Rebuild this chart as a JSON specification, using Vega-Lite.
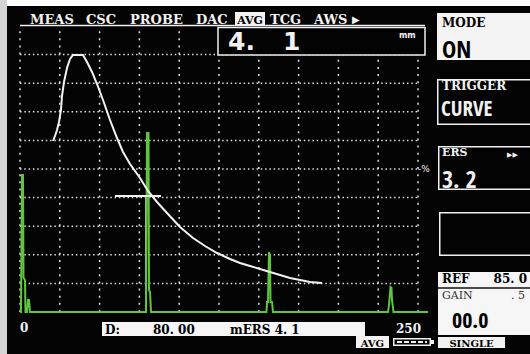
{
"$schema": "https://vega.github.io/schema/vega-lite/v6.json",
"width": 530, "height": 354,
"autosize": {"type": "none"},
"padding": 0,
"background": "#030303",
"config": {"view": {"stroke": null}, "text": {"baseline": "alphabetic"}},
"datasets": {
 "ascan": [
  {"d":0,"a":0},{"d":0.63,"a":0},{"d":1.26,"a":47.9},{"d":1.88,"a":47.9},{"d":2.2,"a":11.9},{"d":3.14,"a":11.2},{"d":3.45,"a":0},{"d":4.4,"a":0},{"d":5.03,"a":4.2},{"d":5.65,"a":4.2},{"d":6.28,"a":0},
  {"d":77.89,"a":0},{"d":79.15,"a":0},{"d":79.77,"a":62.6},{"d":80.72,"a":62.6},{"d":81.03,"a":7.7},{"d":81.66,"a":7.0},{"d":82.29,"a":0},
  {"d":153.89,"a":0},{"d":154.84,"a":0},{"d":155.15,"a":3.5},{"d":155.78,"a":3.5},{"d":156.41,"a":21.0},{"d":157.04,"a":19.9},{"d":157.35,"a":3.5},{"d":158.29,"a":3.5},{"d":158.92,"a":0},
  {"d":231.16,"a":0},{"d":231.78,"a":2.4},{"d":232.73,"a":8.7},{"d":233.36,"a":8.4},{"d":233.67,"a":4.2},{"d":234.61,"a":0},{"d":256.28,"a":0}
 ],
 "curve": [
  {"d":20.73,"a":59.79},{"d":21.98,"a":61.54},{"d":23.24,"a":63.64},{"d":24.5,"a":66.43},{"d":25.75,"a":70.63},{"d":26.38,"a":75.52},{"d":27.64,"a":80.42},{"d":29.52,"a":85.31},{"d":31.41,"a":88.46},{"d":33.29,"a":89.86},{"d":39.57,"a":89.86},{"d":42.09,"a":87.41},{"d":45.23,"a":83.92},{"d":48.37,"a":79.72},{"d":52.14,"a":74.13},{"d":56.53,"a":67.13},{"d":60.93,"a":60.84},{"d":64.7,"a":55.94},{"d":69.1,"a":51.75},{"d":75.38,"a":46.85},{"d":80.4,"a":42.31},{"d":86.06,"a":38.46},{"d":92.34,"a":34.62},{"d":100.5,"a":29.72},{"d":108.67,"a":25.87},{"d":116.21,"a":23.08},{"d":123.74,"a":20.63},{"d":131.91,"a":18.53},{"d":138.19,"a":17.13},{"d":144.47,"a":16.08},{"d":150.75,"a":15.03},{"d":157.04,"a":13.99},{"d":163.32,"a":12.94},{"d":169.6,"a":11.89},{"d":175.88,"a":11.19},{"d":182.16,"a":10.49},{"d":189.71,"a":10.14}
 ],
 "hgrid": [{"a":10},{"a":20},{"a":30},{"a":40},{"a":50},{"a":60},{"a":70},{"a":80},{"a":90}],
 "vgrid": [{"d":0},{"d":25},{"d":50},{"d":75},{"d":100},{"d":125},{"d":150},{"d":175},{"d":200},{"d":225},{"d":250}]
},
"layer": [
 {"data":{"values":[{}]},"mark":{"type":"rect","fill":"#ffffff"},
  "encoding":{"x":{"datum":-12.563,"axis":null,"scale":{"domain":[-12.563,320.352],"nice":false,"zero":false}},"x2":{"datum":320.352},"y":{"datum":106.993,"axis":null,"scale":{"domain":[-14.685,109.091],"nice":false,"zero":false}},"y2":{"datum":109.091}}},
 {"data":{"values":[{}]},"mark":{"type":"rect","fill":"#d4d4d4"},
  "encoding":{"x":{"datum":-12.563,"axis":null},"x2":{"datum":-8.166},"y":{"datum":-14.685,"axis":null},"y2":{"datum":109.091}}},
 {"data":{"name":"hgrid"},"mark":{"type":"rule","stroke":"#e0e0e0","strokeWidth":1.5,"strokeDash":[1.5,2.8]},
  "encoding":{"y":{"field":"a","type":"quantitative","axis":null},"x":{"datum":0,"axis":null},"x2":{"datum":250}}},
 {"data":{"name":"vgrid"},"mark":{"type":"rule","stroke":"#e0e0e0","strokeWidth":1.5,"strokeDash":[2,5.15]},
  "encoding":{"x":{"field":"d","type":"quantitative","axis":null},"y":{"datum":0,"axis":null},"y2":{"datum":100}}},
 {"data":{"values":[{}]},"mark":{"type":"rect","fill":"#030303","stroke":"#f0f0f0","strokeWidth":1.5},
  "encoding":{"x":{"datum":124.372,"axis":null},"x2":{"datum":254.397},"y":{"datum":89.86,"axis":null},"y2":{"datum":99.476}}},
 {"data":{"values":[{}]},"mark":{"type":"rule","stroke":"#f0f0f0","strokeWidth":1.5},
  "encoding":{"x":{"datum":0,"axis":null},"x2":{"datum":254.397},"y":{"datum":100.175,"axis":null}}},
 {"data":{"values":[{}]},"mark":{"type":"rule","stroke":"#b8b8b8","strokeWidth":1},
  "encoding":{"x":{"datum":78.832,"axis":null},"y":{"datum":0,"axis":null},"y2":{"datum":40.5}}},
 {"data":{"name":"ascan"},"mark":{"type":"line","stroke":"#5fc43e","strokeWidth":2},
  "encoding":{"x":{"field":"d","type":"quantitative","axis":{"values":[0,5,10,15,20,25,30,35,40,45,50,55,60,65,70,75,80,85,90,95,100,105,110,115,120,125,130,135,140,145,150,155,160,165,170,175,180,185,190,195,200,205,210,215,220,225,230,235,240,245,250],"offset":-42,"domain":false,"grid":false,"labels":false,"title":null,"ticks":true,"tickColor":"#e6e6e6","tickWidth":1.3,"tickSize":{"condition":{"test":"datum.value % 25 === 0","value":6},"value":3.5}}},
   "y":{"field":"a","type":"quantitative","axis":null}}},
 {"data":{"name":"curve"},"mark":{"type":"line","stroke":"#f2f2f2","strokeWidth":2},
  "encoding":{"x":{"field":"d","type":"quantitative","axis":null},"y":{"field":"a","type":"quantitative","axis":null}}},
 {"data":{"values":[{}]},"mark":{"type":"rule","stroke":"#f2f2f2","strokeWidth":2.2},
  "encoding":{"x":{"datum":59.67,"axis":null},"x2":{"datum":88.57},"y":{"datum":40.559,"axis":null}}},

 {"data":{"values":[{"t":"MEAS"}]},"mark":{"type":"text","align":"left","font":"DejaVu Serif","fontWeight":"bold","fontSize":13,"fill":"#f2f2f2"},
  "encoding":{"x":{"datum":6.281,"axis":null},"y":{"datum":100.699,"axis":null},"text":{"field":"t"}}},
 {"data":{"values":[{"t":"CSC"}]},"mark":{"type":"text","align":"left","font":"DejaVu Serif","fontWeight":"bold","fontSize":13,"fill":"#f2f2f2"},
  "encoding":{"x":{"datum":41.457,"axis":null},"y":{"datum":100.699,"axis":null},"text":{"field":"t"}}},
 {"data":{"values":[{"t":"PROBE"}]},"mark":{"type":"text","align":"left","font":"DejaVu Serif","fontWeight":"bold","fontSize":13,"fill":"#f2f2f2"},
  "encoding":{"x":{"datum":69.096,"axis":null},"y":{"datum":100.699,"axis":null},"text":{"field":"t"}}},
 {"data":{"values":[{"t":"DAC"}]},"mark":{"type":"text","align":"left","font":"DejaVu Serif","fontWeight":"bold","fontSize":13,"fill":"#f2f2f2"},
  "encoding":{"x":{"datum":110.553,"axis":null},"y":{"datum":100.699,"axis":null},"text":{"field":"t"}}},
 {"data":{"values":[{}]},"mark":{"type":"rect","fill":"#f2f2f2"},
  "encoding":{"x":{"datum":135.05,"axis":null},"x2":{"datum":153.9},"y":{"datum":100.35,"axis":null},"y2":{"datum":104.895}}},
 {"data":{"values":[{"t":"AVG"}]},"mark":{"type":"text","align":"center","font":"DejaVu Serif","fontWeight":"bold","fontSize":11,"fill":"#000000"},
  "encoding":{"x":{"datum":144.47,"axis":null},"y":{"datum":100.699,"axis":null},"text":{"field":"t"}}},
 {"data":{"values":[{"t":"TCG"}]},"mark":{"type":"text","align":"left","font":"DejaVu Serif","fontWeight":"bold","fontSize":13,"fill":"#f2f2f2"},
  "encoding":{"x":{"datum":157.035,"axis":null},"y":{"datum":100.699,"axis":null},"text":{"field":"t"}}},
 {"data":{"values":[{"t":"AWS"}]},"mark":{"type":"text","align":"left","font":"DejaVu Serif","fontWeight":"bold","fontSize":13,"fill":"#f2f2f2"},
  "encoding":{"x":{"datum":184.673,"axis":null},"y":{"datum":100.699,"axis":null},"text":{"field":"t"}}},
 {"data":{"values":[{"t":"▶"}]},"mark":{"type":"text","align":"left","font":"DejaVu Sans","fontSize":10,"fill":"#f2f2f2"},
  "encoding":{"x":{"datum":208.543,"axis":null},"y":{"datum":101.049,"axis":null},"text":{"field":"t"}}},
 {"data":{"values":[{"t":"4."}]},"mark":{"type":"text","align":"left","font":"DejaVu Sans","fontWeight":"bold","fontSize":25,"fill":"#f2f2f2"},
  "encoding":{"x":{"datum":130.65,"axis":null},"y":{"datum":91.608,"axis":null},"text":{"field":"t"}}},
 {"data":{"values":[{"t":"1"}]},"mark":{"type":"text","align":"left","font":"DejaVu Sans","fontWeight":"bold","fontSize":25,"fill":"#f2f2f2"},
  "encoding":{"x":{"datum":165.2,"axis":null},"y":{"datum":91.608,"axis":null},"text":{"field":"t"}}},
 {"data":{"values":[{"t":"mm"}]},"mark":{"type":"text","align":"left","font":"DejaVu Sans","fontWeight":"bold","fontSize":8,"fill":"#f2f2f2"},
  "encoding":{"x":{"datum":238.065,"axis":null},"y":{"datum":95.804,"axis":null},"text":{"field":"t"}}},
 {"data":{"values":[{"t":"-%"}]},"mark":{"type":"text","align":"left","font":"DejaVu Sans","fontSize":9,"fill":"#f2f2f2"},
  "encoding":{"x":{"datum":250.0,"axis":null},"y":{"datum":48.951,"axis":null},"text":{"field":"t"}}},

 {"data":{"values":[{}]},"mark":{"type":"rect","fill":"#f4f4f4"},
  "encoding":{"x":{"datum":261.935,"axis":null},"x2":{"datum":320.352},"y":{"datum":88.112,"axis":null},"y2":{"datum":104.545}}},
 {"data":{"values":[{"t":"MODE"}]},"mark":{"type":"text","align":"left","font":"DejaVu Serif","fontWeight":"bold","fontSize":12,"fill":"#000000"},
  "encoding":{"x":{"datum":265.075,"axis":null},"y":{"datum":99.65,"axis":null},"text":{"field":"t"}}},
 {"data":{"values":[{"t":"ON"}]},"mark":{"type":"text","align":"left","font":"Noto Sans ExtraCondensed, Noto Sans Condensed, Open Sans Condensed, Roboto Condensed, DejaVu Sans Condensed, Liberation Sans Narrow, DejaVu Sans","fontWeight":"bold","fontSize":24,"fill":"#000000"},
  "encoding":{"x":{"datum":265.075,"axis":null},"y":{"datum":88.811,"axis":null},"text":{"field":"t"}}},

 {"data":{"values":[{}]},"mark":{"type":"rect","fill":"#f0f0f0"},
  "encoding":{"x":{"datum":261.935,"axis":null},"x2":{"datum":320.352},"y":{"datum":65.385,"axis":null},"y2":{"datum":81.469}}},
 {"data":{"values":[{}]},"mark":{"type":"rect","fill":"#030303"},
  "encoding":{"x":{"datum":262.877,"axis":null},"x2":{"datum":320.352},"y":{"datum":65.909,"axis":null},"y2":{"datum":80.944}}},
 {"data":{"values":[{"t":"TRIGGER"}]},"mark":{"type":"text","align":"left","font":"DejaVu Serif","fontWeight":"bold","fontSize":12,"fill":"#f2f2f2"},
  "encoding":{"x":{"datum":265.075,"axis":null},"y":{"datum":77.622,"axis":null},"text":{"field":"t"}}},
 {"data":{"values":[{"t":"CURVE"}]},"mark":{"type":"text","align":"left","font":"Noto Sans ExtraCondensed, Noto Sans Condensed, Open Sans Condensed, Roboto Condensed, DejaVu Sans Condensed, Liberation Sans Narrow, DejaVu Sans","fontWeight":"bold","fontSize":21,"fill":"#f2f2f2"},
  "encoding":{"x":{"datum":264.447,"axis":null},"y":{"datum":68.531,"axis":null},"text":{"field":"t"}}},

 {"data":{"values":[{}]},"mark":{"type":"rect","fill":"#f0f0f0"},
  "encoding":{"x":{"datum":262.563,"axis":null},"x2":{"datum":320.352},"y":{"datum":42.657,"axis":null},"y2":{"datum":58.042}}},
 {"data":{"values":[{}]},"mark":{"type":"rect","fill":"#030303"},
  "encoding":{"x":{"datum":263.505,"axis":null},"x2":{"datum":320.352},"y":{"datum":43.182,"axis":null},"y2":{"datum":57.517}}},
 {"data":{"values":[{"t":"ERS"}]},"mark":{"type":"text","align":"left","font":"DejaVu Serif","fontWeight":"bold","fontSize":11,"fill":"#f2f2f2"},
  "encoding":{"x":{"datum":265.075,"axis":null},"y":{"datum":54.546,"axis":null},"text":{"field":"t"}}},
 {"data":{"values":[{"t":"▶▶"}]},"mark":{"type":"text","align":"left","font":"DejaVu Sans","fontSize":7,"fill":"#f2f2f2"},
  "encoding":{"x":{"datum":305.905,"axis":null},"y":{"datum":54.196,"axis":null},"text":{"field":"t"}}},
 {"data":{"values":[{"t":"3. 2"}]},"mark":{"type":"text","align":"left","font":"Noto Sans ExtraCondensed, Noto Sans Condensed, Open Sans Condensed, Roboto Condensed, DejaVu Sans Condensed, Liberation Sans Narrow, DejaVu Sans","fontWeight":"bold","fontSize":24,"fill":"#f2f2f2"},
  "encoding":{"x":{"datum":265.075,"axis":null},"y":{"datum":43.357,"axis":null},"text":{"field":"t"}}},

 {"data":{"values":[{}]},"mark":{"type":"rect","fill":"#f0f0f0"},
  "encoding":{"x":{"datum":263.191,"axis":null},"x2":{"datum":320.352},"y":{"datum":19.58,"axis":null},"y2":{"datum":34.965}}},
 {"data":{"values":[{}]},"mark":{"type":"rect","fill":"#030303"},
  "encoding":{"x":{"datum":264.133,"axis":null},"x2":{"datum":320.352},"y":{"datum":20.105,"axis":null},"y2":{"datum":34.441}}},

 {"data":{"values":[{}]},"mark":{"type":"rect","fill":"#f6f6f6"},
  "encoding":{"x":{"datum":262.563,"axis":null},"x2":{"datum":320.352},"y":{"datum":-8.042,"axis":null},"y2":{"datum":13.986}}},
 {"data":{"values":[{}]},"mark":{"type":"rule","stroke":"#111111","strokeWidth":1.5},
  "encoding":{"x":{"datum":262.563,"axis":null},"x2":{"datum":320.352},"y":{"datum":8.392,"axis":null}}},
 {"data":{"values":[{"t":"REF"}]},"mark":{"type":"text","align":"left","font":"DejaVu Serif","fontWeight":"bold","fontSize":12,"fill":"#000000"},
  "encoding":{"x":{"datum":265.075,"axis":null},"y":{"datum":10.14,"axis":null},"text":{"field":"t"}}},
 {"data":{"values":[{"t":"85. 0"}]},"mark":{"type":"text","align":"right","font":"DejaVu Serif","fontWeight":"bold","fontSize":12,"fill":"#000000"},
  "encoding":{"x":{"datum":318.467,"axis":null},"y":{"datum":10.14,"axis":null},"text":{"field":"t"}}},
 {"data":{"values":[{"t":"GAIN"}]},"mark":{"type":"text","align":"left","font":"DejaVu Serif","fontSize":11,"fill":"#333333"},
  "encoding":{"x":{"datum":265.075,"axis":null},"y":{"datum":4.546,"axis":null},"text":{"field":"t"}}},
 {"data":{"values":[{"t":". 5"}]},"mark":{"type":"text","align":"right","font":"DejaVu Serif","fontSize":11,"fill":"#333333"},
  "encoding":{"x":{"datum":317.21,"axis":null},"y":{"datum":4.546,"axis":null},"text":{"field":"t"}}},
 {"data":{"values":[{"t":"00.0"}]},"mark":{"type":"text","align":"left","font":"Noto Sans ExtraCondensed, Noto Sans Condensed, Open Sans Condensed, Roboto Condensed, DejaVu Sans Condensed, Liberation Sans Narrow, DejaVu Sans","fontWeight":"bold","fontSize":22,"fill":"#000000"},
  "encoding":{"x":{"datum":271.357,"axis":null},"y":{"datum":-5.594,"axis":null},"text":{"field":"t"}}},

 {"data":{"values":[{"t":"0"}]},"mark":{"type":"text","align":"left","font":"DejaVu Serif","fontWeight":"bold","fontSize":12,"fill":"#f2f2f2"},
  "encoding":{"x":{"datum":0,"axis":null},"y":{"datum":-6.993,"axis":null},"text":{"field":"t"}}},
 {"data":{"values":[{}]},"mark":{"type":"rect","fill":"#f6f6f6"},
  "encoding":{"x":{"datum":51.508,"axis":null},"x2":{"datum":216.709},"y":{"datum":-8.392,"axis":null},"y2":{"datum":-3.497}}},
 {"data":{"values":[{"t":"D:"}]},"mark":{"type":"text","align":"left","font":"DejaVu Serif","fontWeight":"bold","fontSize":12,"fill":"#000000"},
  "encoding":{"x":{"datum":53.392,"axis":null},"y":{"datum":-7.692,"axis":null},"text":{"field":"t"}}},
 {"data":{"values":[{"t":"80. 00"}]},"mark":{"type":"text","align":"left","font":"DejaVu Serif","fontWeight":"bold","fontSize":12,"fill":"#000000"},
  "encoding":{"x":{"datum":83.543,"axis":null},"y":{"datum":-7.692,"axis":null},"text":{"field":"t"}}},
 {"data":{"values":[{"t":"mERS 4. 1"}]},"mark":{"type":"text","align":"left","font":"DejaVu Serif","fontWeight":"bold","fontSize":12,"fill":"#000000"},
  "encoding":{"x":{"datum":131.91,"axis":null},"y":{"datum":-7.692,"axis":null},"text":{"field":"t"}}},
 {"data":{"values":[{"t":"250"}]},"mark":{"type":"text","align":"right","font":"DejaVu Serif","fontWeight":"bold","fontSize":12,"fill":"#f2f2f2"},
  "encoding":{"x":{"datum":251.885,"axis":null},"y":{"datum":-7.343,"axis":null},"text":{"field":"t"}}},

 {"data":{"values":[{}]},"mark":{"type":"rect","fill":"#f2f2f2"},
  "encoding":{"x":{"datum":211.055,"axis":null},"x2":{"datum":231.784},"y":{"datum":-12.587,"axis":null},"y2":{"datum":-8.392}}},
 {"data":{"values":[{"t":"AVG"}]},"mark":{"type":"text","align":"center","font":"DejaVu Serif","fontWeight":"bold","fontSize":10,"fill":"#000000"},
  "encoding":{"x":{"datum":221.42,"axis":null},"y":{"datum":-12.238,"axis":null},"text":{"field":"t"}}},
 {"data":{"values":[{}]},"mark":{"type":"rect","fill":"#f2f2f2"},
  "encoding":{"x":{"datum":234.297,"axis":null},"x2":{"datum":258.166},"y":{"datum":-11.888,"axis":null},"y2":{"datum":-9.091}}},
 {"data":{"values":[{}]},"mark":{"type":"rect","fill":"#030303"},
  "encoding":{"x":{"datum":235.239,"axis":null},"x2":{"datum":257.224},"y":{"datum":-11.364,"axis":null},"y2":{"datum":-9.615}}},
 {"data":{"values":[{}]},"mark":{"type":"rule","stroke":"#f2f2f2","strokeWidth":2,"strokeDash":[5,2]},
  "encoding":{"x":{"datum":236.809,"axis":null},"x2":{"datum":255.653},"y":{"datum":-10.49,"axis":null}}},
 {"data":{"values":[{}]},"mark":{"type":"rect","fill":"#f2f2f2"},
  "encoding":{"x":{"datum":258.166,"axis":null},"x2":{"datum":260.05},"y":{"datum":-11.189,"axis":null},"y2":{"datum":-9.79}}},
 {"data":{"values":[{}]},"mark":{"type":"rect","fill":"#f2f2f2"},
  "encoding":{"x":{"datum":262.563,"axis":null},"x2":{"datum":304.648},"y":{"datum":-12.587,"axis":null},"y2":{"datum":-8.741}}},
 {"data":{"values":[{"t":"SINGLE"}]},"mark":{"type":"text","align":"center","font":"DejaVu Serif","fontWeight":"bold","fontSize":10,"fill":"#000000"},
  "encoding":{"x":{"datum":283.6,"axis":null},"y":{"datum":-12.238,"axis":null},"text":{"field":"t"}}}
]
}
